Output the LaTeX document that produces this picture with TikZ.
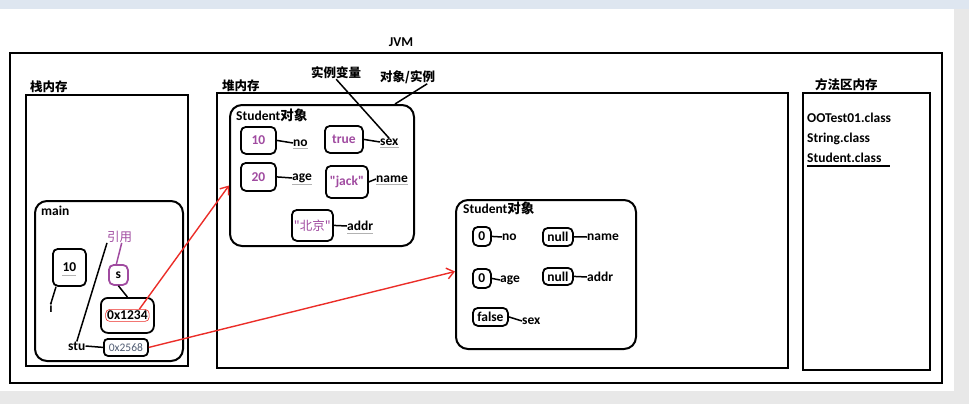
\documentclass[tikz,border=0pt]{standalone}
\usepackage{fontspec}
\setmainfont{Carlito}[Ligatures=TeXOff]
\newfontfamily\cjk{Noto Sans CJK SC}
\usetikzlibrary{arrows.meta, positioning}
\definecolor{jvmpurple}{RGB}{160, 75, 160}
\definecolor{jvmred}{RGB}{235, 45, 40}
\definecolor{jvmaddr}{RGB}{80, 92, 115}
\definecolor{jvmband}{RGB}{222, 230, 240}
\definecolor{jvmscroll}{RGB}{232, 232, 232}
\tikzset{
    memframe/.style={draw, line width=2.2pt},
    objbox/.style={draw, line width=2pt, rounded corners=12pt, anchor=north west, inner sep=0pt},
    valbox/.style={draw, line width=1.8pt, rounded corners=5pt, anchor=north west, inner sep=0pt},
    areatitle/.style={anchor=west, inner sep=0pt, font=\cjk\bfseries\fontsize{12.5}{14}\selectfont},
    fieldname/.style={anchor=west, inner sep=0pt},
    link/.style={draw, line width=1.5pt},
    scribble/.style={draw=gray!60, line width=0.7pt},
    refarrow/.style={draw=jvmred, line width=1.4pt, -{Straight Barb[length=7pt, width=11pt]}}
}

\begin{document}
\begin{tikzpicture}[x=1pt, y=-1pt, font=\bfseries\fontsize{13.5}{15}\selectfont]
    \useasboundingbox (0,0) rectangle (969,404);
    % window bits of the screenshot
    \fill[jvmband] (0,0) rectangle (969,9);
    \fill[jvmscroll] (0,391) rectangle (969,404);
    \fill[jvmscroll] (954,9) rectangle (969,391);

    % memory areas
    \node (jvmtitle) [inner sep=0pt] at (401,42) {JVM};
    \draw[memframe] (10,53) rectangle (942,383);
    \node (stacktitle) [areatitle] at (30,87) {栈内存};
    \draw[memframe] (26,95) rectangle (188,366);
    \node (heaptitle) [areatitle] at (222,86) {堆内存};
    \draw[memframe] (217,93) rectangle (788,368);
    \node (methtitle) [areatitle] at (815,85) {方法区内存};
    \draw[memframe] (803,93) rectangle (930,370);

    % method area
    \node (cls1) [fieldname] at (807,118) {OOTest01.class};
    \node (cls2) [fieldname] at (807,139) {String.class};
    \node (cls3) [fieldname] at (807,158) {Student.class};
    \draw[line width=1.5pt] (807,166) -- (890,166);

    % stack frame of main
    \node (mainbox) [objbox, minimum width=148pt, minimum height=160pt] at (34,200) {};
    \node (mainlbl) [fieldname] at (41,211) {main};
    \node (ibox) [valbox, minimum width=33pt, minimum height=37pt] at (52,248) {10};
    \draw[scribble] ([xshift=-7pt, yshift=-8pt]ibox.center) -- ([xshift=7pt, yshift=-8pt]ibox.center);
    \node (ilbl) [inner sep=0pt] at (51,308) {i};
    \draw[link] ([xshift=4pt]ibox.south west) -- (ilbl.north);
    \node (yinyong) [fieldname, font=\cjk\fontsize{12.5}{14}\selectfont, text=jvmpurple] at (107,237) {引用};
    \node (sbox) [valbox, draw=jvmpurple, minimum width=19pt, minimum height=20pt] at (108,264) {s};
    \draw[link, draw=jvmpurple] ([xshift=2pt]yinyong.south) -- ([xshift=-2pt]sbox.north);
    \node (cellbox) [valbox, rounded corners=7pt, minimum width=53pt, minimum height=35pt] at (100,297) {};
    \node (addra) [draw=jvmred, line width=0.6pt, rounded corners=4pt, inner sep=1.5pt] at (cellbox.center) {0x1234};
    \draw[link] (sbox.south) -- (cellbox.north);
    \node (stulbl) [fieldname] at (68,346) {stu};
    \node (addrb) [valbox, rounded corners=4pt, minimum width=44pt, minimum height=17pt,
        text=jvmaddr, font=\mdseries\fontsize{11.5}{13}\selectfont] at (103,338) {0x2568};
    \draw[link] (stulbl.east) -- (addrb.west);
    \draw[link] (yinyong.south west) -- (stulbl.north);

    % first Student object
    \node (instvar) [areatitle] at (311,73) {实例变量};
    \node (objinst) [areatitle] at (380,77) {对象/实例};
    \node (obja) [objbox, minimum width=184pt, minimum height=141pt] at (229,104) {};
    \node (objatitle) [fieldname] at (236,115) {Student\cjk 对象};
    \node (va1) [valbox, text=jvmpurple, minimum width=35pt, minimum height=27pt] at (240,126) {10};
    \node (fa1) [fieldname] at (293,143) {no};
    \node (va2) [valbox, text=jvmpurple, minimum width=38pt, minimum height=27pt] at (324,125) {true};
    \node (fa2) [fieldname] at (380,142) {sex};
    \node (va3) [valbox, text=jvmpurple, minimum width=35pt, minimum height=28pt] at (240,162) {20};
    \node (fa3) [fieldname] at (292,178) {age};
    \node (va4) [valbox, text=jvmpurple, minimum width=42pt, minimum height=32pt] at (325,165) {"jack"};
    \node (fa4) [fieldname] at (376,179) {name};
    \node (va5) [valbox, text=jvmpurple, minimum width=41pt, minimum height=31pt,
        font=\cjk\fontsize{12.5}{14}\selectfont] at (291,209) {"北京"};
    \node (fa5) [fieldname] at (347,226) {addr};
    \foreach \v/\f in {va1/fa1, va2/fa2, va3/fa3, va4/fa4, va5/fa5} {
        \draw[link] (\v.east) -- (\f.west);
        \draw[scribble] ([yshift=-2pt]\f.south west) -- ([yshift=-2pt]\f.south east);
    }
    \draw[link] (instvar.south) -- (fa2.north);
    \draw[link] ([xshift=-8pt]objinst.south east) -- ([xshift=-20pt]obja.north east);

    % second Student object
    \node (objb) [objbox, minimum width=180pt, minimum height=149pt] at (455,199) {};
    \node (objbtitle) [fieldname] at (463,208) {Student\cjk 对象};
    \node (vb1) [valbox, minimum width=18pt, minimum height=19pt] at (472,226) {0};
    \node (fb1) [fieldname] at (502,237) {no};
    \node (vb2) [valbox, minimum width=30pt, minimum height=18pt] at (542,227) {null};
    \node (fb2) [fieldname] at (587,237) {name};
    \node (vb3) [valbox, minimum width=18pt, minimum height=19pt] at (472,268) {0};
    \node (fb3) [fieldname] at (500,280) {age};
    \node (vb4) [valbox, minimum width=30pt, minimum height=17pt] at (542,267) {null};
    \node (fb4) [fieldname] at (587,277) {addr};
    \node (vb5) [valbox, minimum width=35pt, minimum height=18pt] at (472,307) {false};
    \node (fb5) [fieldname] at (522,321) {sex};
    \foreach \v/\f in {vb1/fb1, vb2/fb2, vb3/fb3, vb4/fb4, vb5/fb5}
        \draw[link] (\v.east) -- (\f.west);

    % references from the stack into the heap
    \draw[refarrow] ([xshift=12pt]addra.north) -- ([yshift=-10pt]obja.west);
    \draw[refarrow] (addrb.east) -- ([yshift=3pt]objb.west);
\end{tikzpicture}
\end{document}
